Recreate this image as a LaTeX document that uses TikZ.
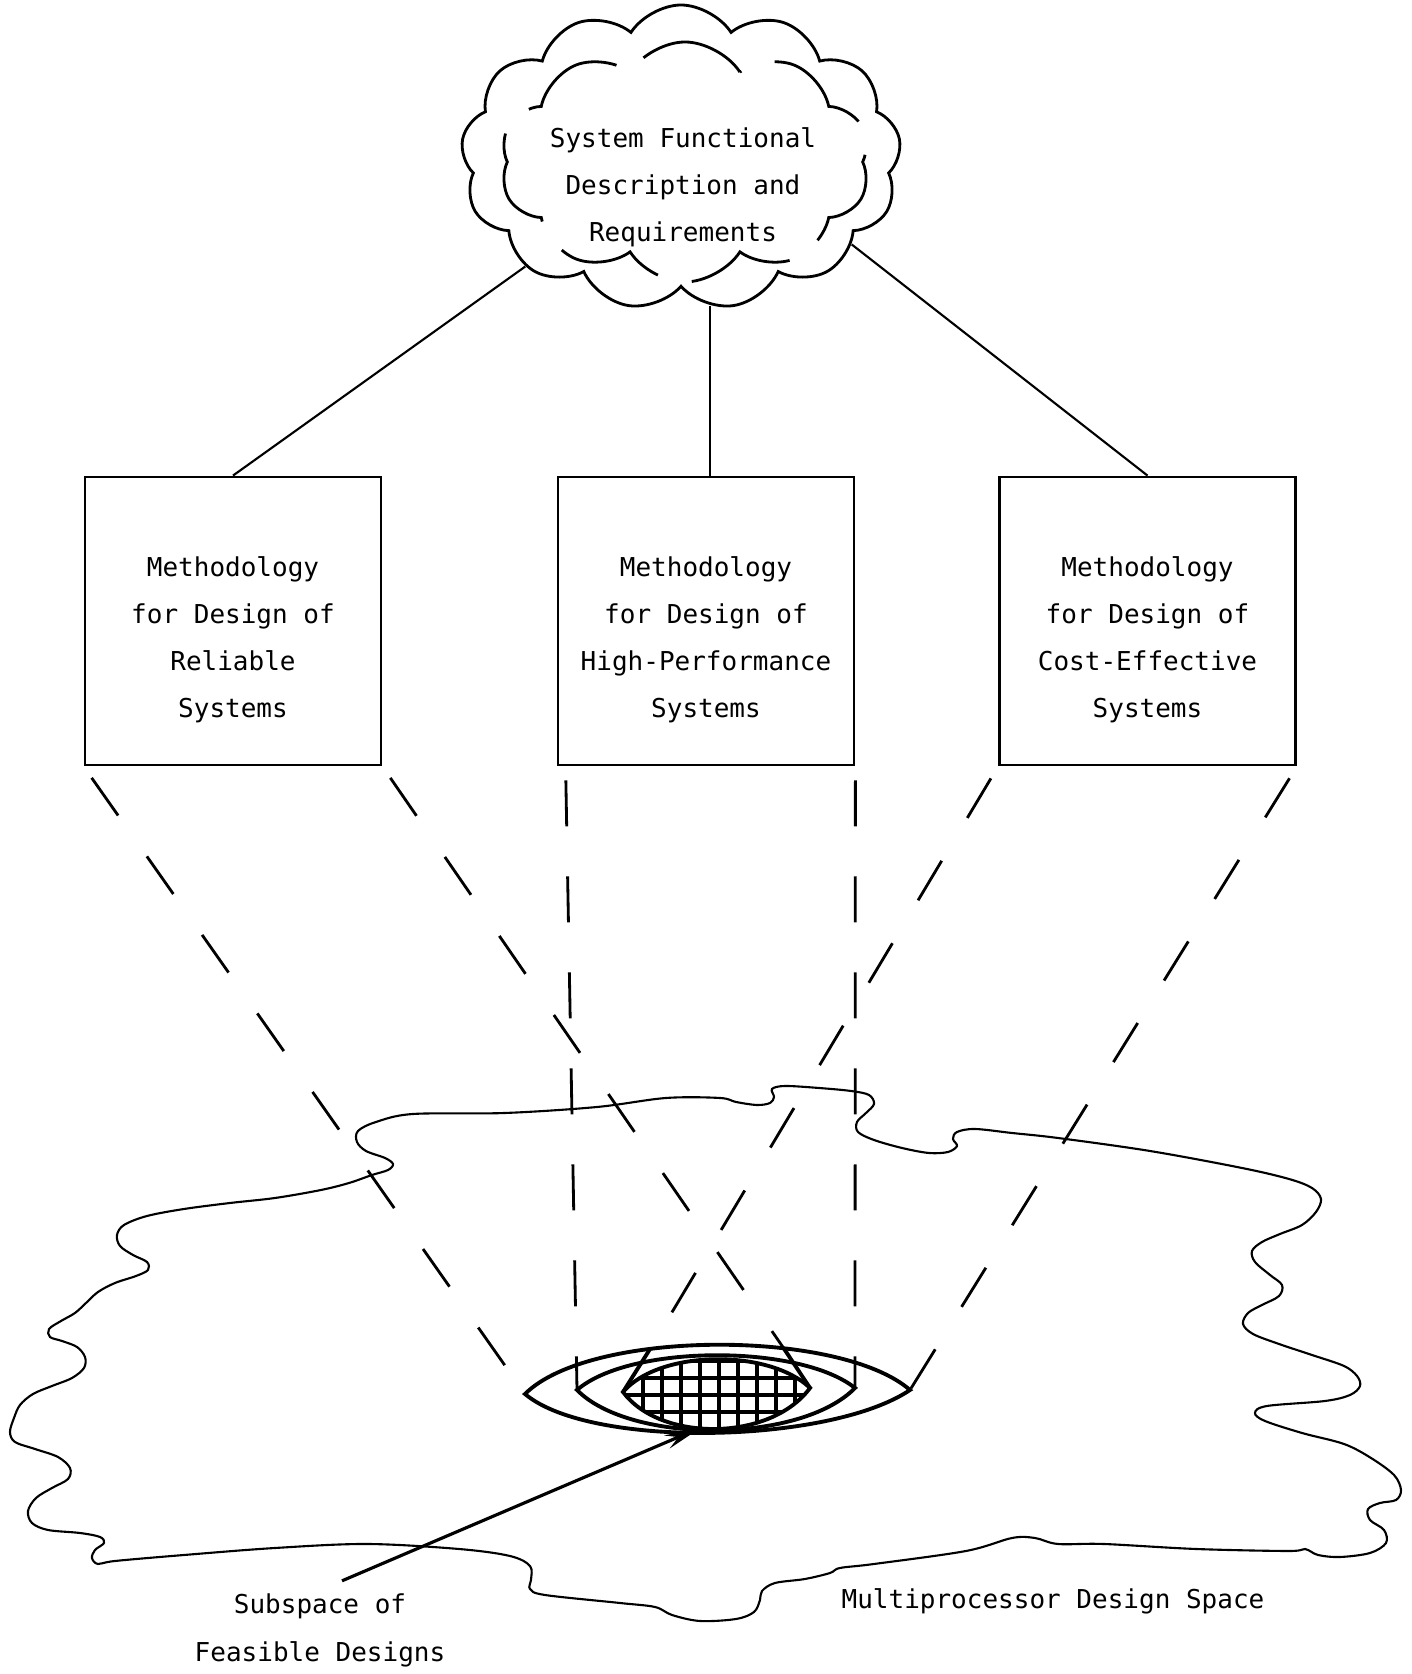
\documentclass[tikz,border=0pt]{standalone}
\usepackage{fontspec}
\setmainfont{DejaVu Sans Mono}
\usetikzlibrary{shapes,arrows.meta,calc}

\begin{document}
\begin{tikzpicture}[
  method/.style={draw, thick, minimum width=2.96cm, minimum height=2.88cm},
  boxtext/.style={align=center, font=\fontsize{7.4}{13.4}\selectfont},
  puffs/.style={cloud, draw, thick, cloud puffs=13, cloud puff arc=115},
  link/.style={semithick},
  proj/.style={thick, dash pattern=on 0.46cm off 0.5cm, dash phase=0.82cm},
  lens/.style={line width=1.1pt},
  space/.style={semithick},
  pointer/.style={line width=0.9pt, -{Stealth[length=0.38cm,width=0.14cm]}}
]
\useasboundingbox (0,0) rectangle (14.12,16.74);

% requirements cloud
\node[puffs, minimum width=4.4cm, minimum height=3.05cm] (sys) at (6.81,15.165) {};
\node[puffs, cloud puffs=10, minimum width=3.7cm, minimum height=2.4cm,
      dash pattern=on 1.1cm off 0.35cm] (sysin) at (6.85,15.12) {};
\node[boxtext] (sysreq) at (6.83,14.87) {System Functional\\Description and\\Requirements};

% methodology boxes
\node[method] (lbox) at (2.33,10.53) {};
\node[method] (mbox) at (7.06,10.53) {};
\node[method] (rbox) at (11.475,10.53) {};
\node[boxtext] (ltext) at ([yshift=-0.19cm]lbox.center) {Methodology\\for Design of\\Reliable\\Systems};
\node[boxtext] (mtext) at ([yshift=-0.19cm]mbox.center) {Methodology\\for Design of\\High-Performance\\Systems};
\node[boxtext] (rtext) at ([yshift=-0.19cm]rbox.center) {Methodology\\for Design of\\Cost-Effective\\Systems};

\draw[link] (sys.215) -- (lbox.north);
\draw[link] (sys.281) -- (sys.281 |- mbox.north);
\draw[link] (sys.333) -- (rbox.north);

% design space
\draw[space] plot[smooth cycle, tension=0.55] coordinates {
  (7.20,5.76) (6.66,5.76) (5.97,5.67) (5.05,5.61) (4.13,5.60) (3.76,5.52)
  (3.58,5.43) (3.57,5.32) (3.66,5.23) (3.85,5.16) (3.93,5.10) (3.88,5.04)
  (3.72,4.99) (3.49,4.91) (3.21,4.84) (2.75,4.76) (2.30,4.71) (1.84,4.65)
  (1.47,4.58) (1.24,4.49) (1.17,4.39) (1.20,4.28) (1.33,4.19) (1.47,4.12)
  (1.48,4.04) (1.36,3.98) (1.15,3.91) (0.98,3.82) (0.86,3.71) (0.75,3.61)
  (0.61,3.53) (0.49,3.45) (0.50,3.37) (0.62,3.33) (0.77,3.27) (0.85,3.17)
  (0.84,3.06) (0.72,2.96) (0.52,2.88) (0.33,2.80) (0.20,2.69) (0.14,2.56)
  (0.10,2.42) (0.15,2.32) (0.35,2.25) (0.58,2.17) (0.70,2.06) (0.68,1.95)
  (0.52,1.86) (0.36,1.76) (0.28,1.63) (0.32,1.51) (0.48,1.44) (0.80,1.41)
  (1.00,1.37) (1.04,1.31) (0.95,1.24) (0.92,1.16) (0.98,1.10) (1.15,1.13)
  (1.84,1.19) (2.75,1.26) (3.67,1.30) (4.59,1.25) (5.10,1.18) (5.30,1.08)
  (5.31,0.94) (5.30,0.85) (5.45,0.79) (6.20,0.71) (6.55,0.67) (6.72,0.59)
  (7.00,0.53) (7.36,0.55) (7.54,0.62) (7.60,0.74) (7.62,0.83) (7.75,0.91)
  (8.05,0.95) (8.30,1.01) (8.40,1.06) (8.74,1.10) (9.66,1.23) (10.12,1.36)
  (10.35,1.36) (10.58,1.30) (11.04,1.30) (11.96,1.25) (12.89,1.23) (13.05,1.25)
  (13.18,1.19) (13.40,1.17) (13.70,1.21) (13.86,1.31) (13.84,1.44) (13.70,1.54)
  (13.68,1.65) (13.80,1.71) (13.96,1.74) (14.01,1.84) (13.94,1.99) (13.71,2.16)
  (13.44,2.30) (13.02,2.41) (12.65,2.53) (12.55,2.61) (12.67,2.68) (13.25,2.73)
  (13.50,2.79) (13.60,2.88) (13.57,2.98) (13.44,3.08) (13.12,3.19) (12.79,3.30)
  (12.53,3.40) (12.43,3.50) (12.48,3.61) (12.62,3.69) (12.79,3.78) (12.82,3.89)
  (12.70,3.99) (12.55,4.12) (12.52,4.23) (12.62,4.32) (12.80,4.40) (13.02,4.49)
  (13.16,4.62) (13.21,4.75) (13.12,4.86) (12.89,4.95) (12.42,5.06) (11.50,5.23)
  (10.58,5.36) (10.12,5.41) (9.75,5.45) (9.57,5.42) (9.53,5.35) (9.57,5.28)
  (9.48,5.22) (9.29,5.21) (9.02,5.26) (8.74,5.34) (8.58,5.42) (8.57,5.52)
  (8.66,5.61) (8.74,5.70) (8.69,5.79) (8.51,5.83) (8.19,5.86) (7.85,5.88)
  (7.72,5.85) (7.74,5.77) (7.70,5.71) (7.57,5.69) (7.36,5.72)};

% feasible subspace
\coordinate (ltip) at (5.25,2.80);
\coordinate (rtip) at (9.10,2.84);
\coordinate (mtipl) at (5.77,2.84);
\coordinate (mtipr) at (8.55,2.86);
\coordinate (itipl) at (6.23,2.82);
\coordinate (itipr) at (8.10,2.86);
\coordinate (feas) at (7.02,2.47);

\begin{scope}
\clip (itipl) .. controls (6.6,3.25) and (7.7,3.25) .. (itipr)
      .. controls (7.7,2.32) and (6.6,2.32) .. cycle;
\foreach \x in {6.43,6.62,...,8.1} \draw[line width=1pt] (\x,2.3) -- (\x,3.3);
\foreach \y in {2.62,2.79,2.96,3.13} \draw[line width=1pt] (6.2,\y) -- (8.2,\y);
\end{scope}

\draw[lens] (ltip) .. controls (5.9,3.45) and (8.4,3.45) .. (rtip)
  coordinate[pos=0.36] (xl) coordinate[pos=0.645] (xr)
  .. controls (8.3,2.3) and (5.9,2.25) .. cycle;
\draw[lens] (mtipl) .. controls (6.3,3.3) and (8.0,3.3) .. (mtipr)
  .. controls (8.0,2.3) and (6.3,2.3) .. cycle;
\draw[lens] (itipl) .. controls (6.6,3.25) and (7.7,3.25) .. (itipr)
  .. controls (7.7,2.32) and (6.6,2.32) .. cycle;
\draw[lens] (itipl) -- (xl);
\draw[lens] (itipr) -- (xr);

% projections of the three methodologies
\draw[proj] (lbox.south west) -- (ltip);
\draw[proj] (lbox.south east) -- (xr);
\draw[proj] ([xshift=0.09cm]mbox.south west) -- (mtipl);
\draw[proj] (mbox.south east) -- (mtipr);
\draw[proj] (rbox.south west) -- (xl);
\draw[proj] (rbox.south east) -- (rtip);

% labels
\node[boxtext, font=\fontsize{7.4}{13.7}\selectfont] (sub) at (3.20,0.44) {Subspace of\\Feasible Designs};
\node[boxtext] (mds) at (10.53,0.73) {Multiprocessor Design Space};
\draw[pointer] ([xshift=0.22cm]sub.north) -- (feas);
\end{tikzpicture}
\end{document}
